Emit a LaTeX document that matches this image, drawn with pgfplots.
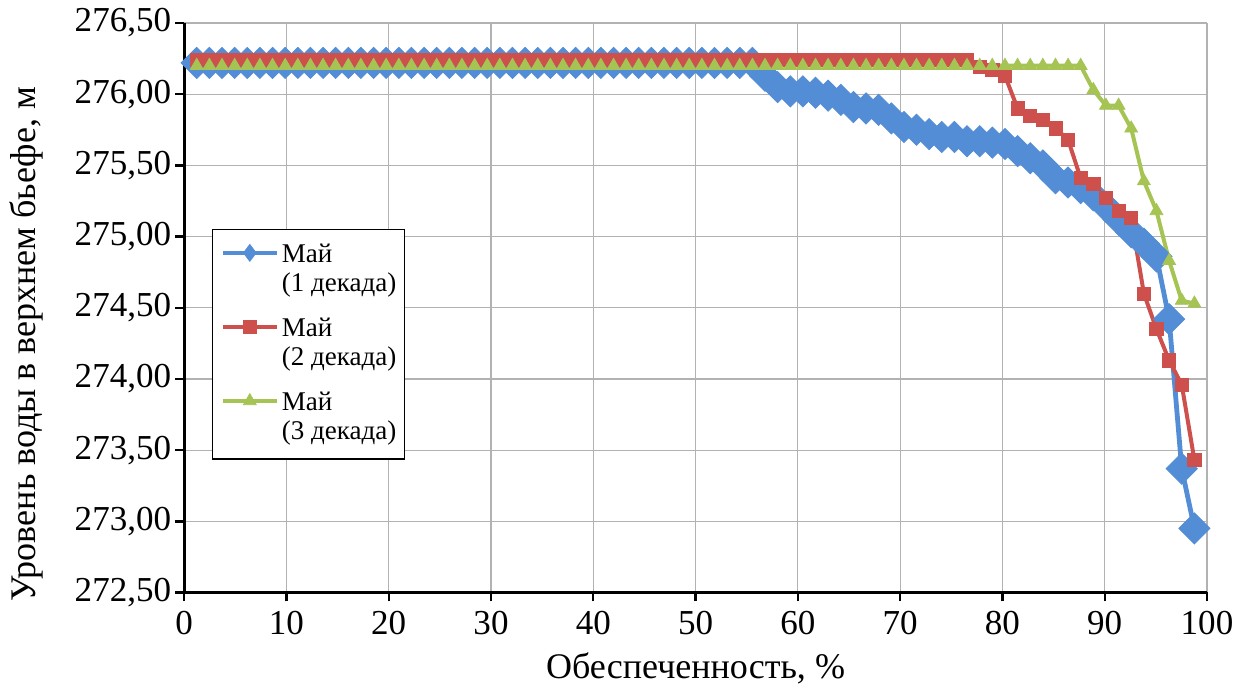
\documentclass[border=0pt]{standalone}
\usepackage{fontspec}
\setmainfont{Liberation Serif}
\usepackage{pgfplots}
\usepackage{pgfplotstable}
\pgfplotsset{compat=1.18}

\definecolor{cB}{RGB}{83,141,213}
\definecolor{cR}{RGB}{205,80,77}
\definecolor{cG}{RGB}{166,196,84}

\pgfplotstableread{
x b r g
1.23 276.22 276.24 276.20
2.47 276.22 276.24 276.20
3.70 276.22 276.24 276.20
4.94 276.22 276.24 276.20
6.17 276.22 276.24 276.20
7.41 276.22 276.24 276.20
8.64 276.22 276.24 276.20
9.88 276.22 276.24 276.20
11.11 276.22 276.24 276.20
12.35 276.22 276.24 276.20
13.58 276.22 276.24 276.20
14.81 276.22 276.24 276.20
16.05 276.22 276.24 276.20
17.28 276.22 276.24 276.20
18.52 276.22 276.24 276.20
19.75 276.22 276.24 276.20
20.99 276.22 276.24 276.20
22.22 276.22 276.24 276.20
23.46 276.22 276.24 276.20
24.69 276.22 276.24 276.20
25.93 276.22 276.24 276.20
27.16 276.22 276.24 276.20
28.40 276.22 276.24 276.20
29.63 276.22 276.24 276.20
30.86 276.22 276.24 276.20
32.10 276.22 276.24 276.20
33.33 276.22 276.24 276.20
34.57 276.22 276.24 276.20
35.80 276.22 276.24 276.20
37.04 276.22 276.24 276.20
38.27 276.22 276.24 276.20
39.51 276.22 276.24 276.20
40.74 276.22 276.24 276.20
41.98 276.22 276.24 276.20
43.21 276.22 276.24 276.20
44.44 276.22 276.24 276.20
45.68 276.22 276.24 276.20
46.91 276.22 276.24 276.20
48.15 276.22 276.24 276.20
49.38 276.22 276.24 276.20
50.62 276.22 276.24 276.20
51.85 276.22 276.24 276.20
53.09 276.22 276.24 276.20
54.32 276.22 276.24 276.20
55.56 276.22 276.24 276.20
56.79 276.13 276.24 276.20
58.02 276.05 276.24 276.20
59.26 276.02 276.24 276.20
60.49 276.02 276.24 276.20
61.73 276.01 276.24 276.20
62.96 275.99 276.24 276.20
64.20 275.96 276.24 276.20
65.43 275.91 276.24 276.20
66.67 275.90 276.24 276.20
67.90 275.89 276.24 276.20
69.14 275.83 276.24 276.20
70.37 275.77 276.24 276.20
71.60 275.75 276.24 276.20
72.84 275.72 276.24 276.20
74.07 275.70 276.24 276.20
75.31 275.70 276.24 276.20
76.54 275.67 276.24 276.20
77.78 275.67 276.19 276.20
79.01 275.66 276.17 276.20
80.25 275.65 276.13 276.20
81.48 275.60 275.90 276.20
82.72 275.55 275.85 276.20
83.95 275.50 275.82 276.20
85.19 275.41 275.76 276.20
86.42 275.38 275.68 276.20
87.65 275.34 275.41 276.20
88.89 275.29 275.37 276.03
90.12 275.21 275.27 275.92
91.36 275.12 275.18 275.92
92.59 275.03 275.13 275.76
93.83 274.95 274.60 275.39
95.06 274.86 274.35 275.18
96.30 274.42 274.13 274.83
97.53 273.37 273.96 274.55
98.77 272.95 273.43 274.53
}\datatable

\begin{document}
\begin{tikzpicture}
\useasboundingbox (-92pt,-50.5pt) rectangle (525pt,296pt);
\begin{axis}[
  scale only axis, width=511pt, height=284.5pt,
  at={(0,0)}, anchor=south west,
  xmin=0, xmax=100, ymin=272.5, ymax=276.5,
  xtick={0,10,20,30,40,50,60,70,80,90,100},
  ytick={272.5,273,273.5,274,274.5,275,275.5,276,276.5},
  axis x line*=bottom, axis y line*=left,
  axis line style={line width=1.6pt, black, -},
  tick align=outside, major tick length=4.5pt,
  tick style={line width=1.2pt, black},
  grid=major, major grid style={gray!60, line width=0.6pt},
  clip=false,
  /pgf/number format/assume math mode=true,
  tick label style={font=\fontsize{17.5}{20}\selectfont},
  x tick label style={yshift=-1.5pt},
  y tick label style={xshift=1.5pt, /pgf/number format/fixed, /pgf/number format/fixed zerofill,
     /pgf/number format/precision=2, /pgf/number format/use comma,
     /pgf/number format/1000 sep={}},
  xlabel={Обеспеченность, \%},
  ylabel={Уровень воды в верхнем бьефе, м},
  xlabel style={font=\fontsize{18}{21}\selectfont, at={(axis description cs:0.5,-0.1336)}, anchor=center},
  ylabel style={font=\fontsize{18}{21}\selectfont, at={(axis description cs:-0.1546,0.436)}, anchor=center},
  legend image code/.code={%
    \draw[#1, mark repeat=2, mark phase=2] plot coordinates {(0pt,4.6pt) (13.5pt,4.6pt) (27pt,4.6pt)};
  },
  legend style={at={(axis description cs:0.0274,0.6384)}, anchor=north west,
     draw=black, line width=0.6pt, fill=white, inner xsep=4pt, inner ysep=7pt,
     row sep=10.4pt, column sep=1.5pt,
     nodes={inner sep=0pt, text depth=, font=\fontsize{13.5}{14.5}\selectfont},
     cells={anchor=base west}},
]
\addplot[color=cB, line width=2.4pt, mark=square*, mark size=5.5pt,
   mark options={rotate=45, fill=cB, draw=cB, line width=0.4pt, solid},
   legend image post style={mark=diamond*, mark size=4.2pt, line width=2pt,
      mark options={fill=cB, draw=cB, line width=0.4pt, solid}}]
   table[x=x, y=b] {\datatable};
\addlegendentry{\vtop{\baselineskip=14.5pt\hbox{Май}\hbox{(1 декада)}}}
\addplot[color=cR, line width=2pt, mark=square*, mark size=3.3pt,
   mark options={fill=cR, draw=cR, line width=0.4pt, solid}]
   table[x=x, y=r] {\datatable};
\addlegendentry{\vtop{\baselineskip=14.5pt\hbox{Май}\hbox{(2 декада)}}}
\addplot[color=cG, line width=2pt, mark=triangle*, mark size=3.7pt,
   mark options={fill=cG, draw=cG, line width=0.4pt, solid}]
   table[x=x, y=g] {\datatable};
\addlegendentry{\vtop{\baselineskip=14.5pt\hbox{Май}\hbox{(3 декада)}}}
\end{axis}
\end{tikzpicture}
\end{document}
